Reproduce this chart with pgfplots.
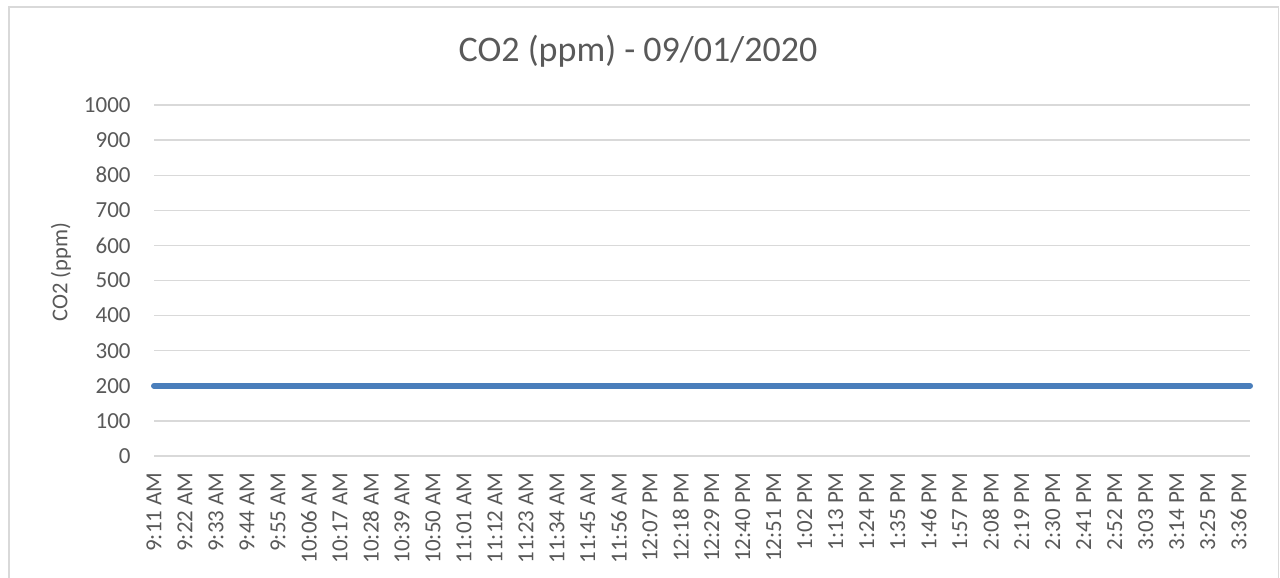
\documentclass[border=0pt]{standalone}
\usepackage{pgfplots}
\pgfplotsset{compat=1.18}
\usepackage{fontspec}
\setmainfont{Carlito}
\definecolor{txtc}{HTML}{595959}
\definecolor{gridc}{HTML}{D9D9D9}
\definecolor{seriesc}{HTML}{4A7EBB}
\begin{document}
\begin{tikzpicture}
\path[use as bounding box] (0pt,0pt) rectangle (640pt,-289pt);
\draw[gridc, line width=0.8pt] (4.5pt,-3.5pt) rectangle (639.2pt,-300pt);
\node[anchor=base, text=txtc, font=\fontsize{18}{22}\selectfont, inner sep=0pt] at (319pt,-30.8pt) {CO2 (ppm) - 09/01/2020};
\begin{axis}[
  at={(77pt,-228pt)}, anchor=south west,
  scale only axis, width=548pt, height=175.5pt,
  xmin=0, xmax=389, ymin=0, ymax=1000,
  axis line style={draw=none},
  major tick length=0pt,
  ytick={0,100,...,1000},
  xtick={0,11,...,385},
  xticklabels={9:11 AM,9:22 AM,9:33 AM,9:44 AM,9:55 AM,10:06 AM,10:17 AM,10:28 AM,10:39 AM,10:50 AM,11:01 AM,11:12 AM,11:23 AM,11:34 AM,11:45 AM,11:56 AM,12:07 PM,12:18 PM,12:29 PM,12:40 PM,12:51 PM,1:02 PM,1:13 PM,1:24 PM,1:35 PM,1:46 PM,1:57 PM,2:08 PM,2:19 PM,2:30 PM,2:41 PM,2:52 PM,3:03 PM,3:14 PM,3:25 PM,3:36 PM},
  /pgf/number format/assume math mode=true,
  /pgf/number format/1000 sep={},
  ymajorgrids=true, xmajorgrids=false,
  major grid style={draw=gridc, line width=0.7pt},
  tick label style={text=txtc, font=\fontsize{11.5}{14}\selectfont},
  yticklabel style={anchor=east, inner xsep=11.5pt},
  xticklabel style={rotate=90, anchor=east, inner xsep=8pt},
  ylabel={CO2 (ppm)},
  ylabel style={at={(axis description cs:-0.0849,0.524)}, anchor=center, text=txtc, font=\fontsize{11.3}{14}\selectfont},
  clip=false,
]
\addplot[seriesc, line width=3pt, line cap=round] coordinates {
(0,200) (11,200) (22,200) (33,200) (44,200) (55,200) (66,200) (77,200) (88,200) (99,200)
(110,200) (121,200) (132,200) (143,200) (154,200) (165,200) (176,200) (187,200) (198,200)
(209,200) (220,200) (231,200) (242,200) (253,200) (264,200) (275,200) (286,200) (297,200)
(308,200) (319,200) (330,200) (341,200) (352,200) (363,200) (374,200) (385,200) (389,200)
};
\end{axis}
\end{tikzpicture}
\end{document}
